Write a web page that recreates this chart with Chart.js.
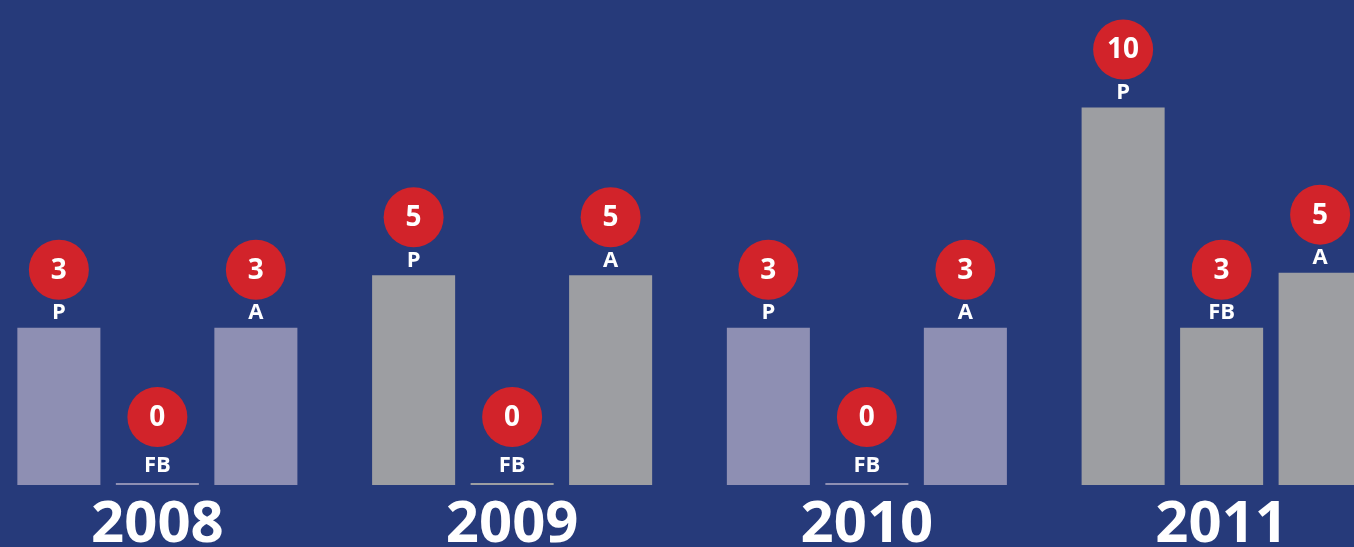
<!DOCTYPE html>
<html>
<head>
<meta charset="utf-8">
<script src="https://cdn.jsdelivr.net/npm/chart.js@4"></script>
<style>
  html, body { margin: 0; padding: 0; background: #263a7a; overflow: hidden; width: 1354px; height: 547px; }
  #wrap { position: absolute; left: -20px; top: 0; width: 1419px; height: 557px; }
</style>
</head>
<body>
<div id="wrap"><canvas id="myChart"></canvas></div>
<script>
const years = ['2008', '2009', '2010', '2011'];

// numbers shown in the red circles
const pCounts = [3, 5, 3, 10];
const fbCounts = [0, 0, 0, 3];
const aCounts = [3, 5, 3, 5];

// bar heights as drawn in the picture (not proportional to the counts)
const pHeights = [3, 4, 3, 7.2];
const fbHeights = [0, 0, 0, 3];
const aHeights = [3, 4, 3, 4.05];

const seriesNames = ['P', 'FB', 'A'];

const yearColors = ['#8e8fb3', '#9d9ea2', '#8e8fb3', '#9d9ea2'];
const fontFamily = '"Open Sans", "DejaVu Sans", sans-serif';

const bubbleLabels = {
  id: 'bubbleLabels',
  afterDatasetsDraw(chart) {
    const ctx = chart.ctx;
    const counts = [pCounts, fbCounts, aCounts];
    chart.data.datasets.forEach((ds, di) => {
      const meta = chart.getDatasetMeta(di);
      meta.data.forEach((bar, i) => {
        const x = bar.x;
        const top = bar.y;
        const zero = counts[di][i] === 0;
        const labelY = top - (zero ? 17 : 15);
        const circleY = top - (zero ? 66 : 58);

        ctx.save();
        ctx.textAlign = 'center';
        ctx.textBaseline = 'middle';
        ctx.fillStyle = '#ffffff';
        ctx.font = 'bold 22px ' + fontFamily;
        ctx.fillText(ds.label, x, labelY);

        ctx.beginPath();
        ctx.arc(x, circleY, 30, 0, Math.PI * 2);
        ctx.fillStyle = '#d2232a';
        ctx.fill();

        ctx.fillStyle = '#ffffff';
        ctx.font = 'bold 28px ' + fontFamily;
        ctx.fillText(String(counts[di][i]), x, circleY + 1);
        ctx.restore();
      });
    });
  }
};

const ctx = document.getElementById('myChart').getContext('2d');

new Chart(ctx, {
  type: 'bar',
  data: {
    labels: years,
    datasets: [
      { label: seriesNames[0], data: pHeights, backgroundColor: yearColors },
      { label: seriesNames[1], data: fbHeights, backgroundColor: yearColors },
      { label: seriesNames[2], data: aHeights, backgroundColor: yearColors }
    ]
  },
  options: {
    responsive: true,
    maintainAspectRatio: false,
    animation: false,
    layout: { padding: 0 },
    datasets: {
      bar: {
        categoryPercentage: 0.833,
        barPercentage: 0.843,
        minBarLength: 2,
        borderWidth: 0
      }
    },
    scales: {
      x: {
        grid: { display: false },
        border: { display: false },
        ticks: {
          color: '#ffffff',
          padding: 3,
          font: { family: fontFamily, size: 58, weight: 'bold', lineHeight: 1 }
        }
      },
      y: {
        display: false,
        min: 0,
        max: 9.25
      }
    },
    plugins: {
      legend: { display: false },
      tooltip: { enabled: false }
    }
  },
  plugins: [bubbleLabels]
});
</script>
</body>
</html>
